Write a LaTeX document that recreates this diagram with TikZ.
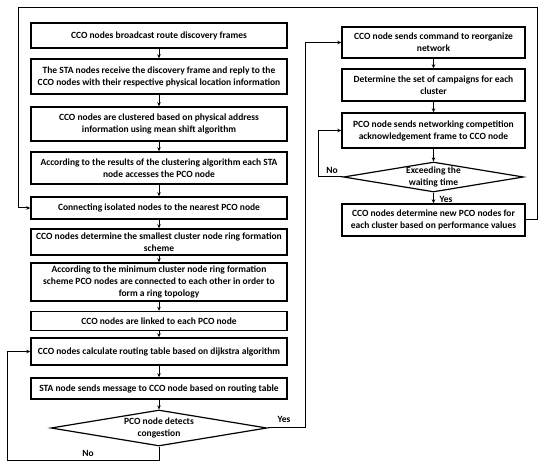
\documentclass[tikz,border=0pt]{standalone}
\usepackage{fontspec}
\setmainfont{Carlito}
\usetikzlibrary{arrows.meta,shapes.geometric}
\begin{document}
\begin{tikzpicture}[x=1pt,y=-1pt,
  font=\fontsize{9.5}{12}\selectfont\bfseries,
  box/.style={draw,line width=1.4pt,align=center,inner sep=0pt,
    minimum width=#1},
  lbox/.style={box=256pt},
  rbox/.style={box=183pt},
  dec/.style={draw,diamond,line width=1.2pt,align=center,inner sep=0pt,aspect=6},
  arr/.style={-{Stealth[length=4pt,width=3.5pt]},line width=1pt},
  lab/.style={font=\fontsize{9.5}{11}\selectfont\bfseries}]
\useasboundingbox (0,0) rectangle (550,465);
\fill[white] (0,0) rectangle (550,465);
% left column
\node[lbox,minimum height=25pt] (b1) at (159,35.5) {CCO nodes broadcast route discovery frames};
\node[lbox,minimum height=35pt] (b2) at (159,76.5) {The STA nodes receive the discovery frame and reply to the\\CCO nodes with their respective physical location information};
\node[lbox,minimum height=34pt] (b3) at (159,124) {CCO nodes are clustered based on physical address\\information using mean shift algorithm};
\node[lbox,minimum height=32pt] (b4) at (159,168) {According to the results of the clustering algorithm each STA\\node accesses the PCO node};
\node[lbox,minimum height=22pt] (b5) at (159,208) {Connecting isolated nodes to the nearest PCO node};
\node[lbox,minimum height=26pt] (b6) at (159,242) {CCO nodes determine the smallest cluster node ring formation\\scheme};
\node[lbox,minimum height=38pt] (b7) at (159,282) {According to the minimum cluster node ring formation\\scheme PCO nodes are connected to each other in order to\\form a ring topology};
\node[lbox,minimum height=19pt] (b8) at (159,321) {CCO nodes are linked to each PCO node};
\node[lbox,minimum height=27pt] (b9) at (159,351.5) {CCO nodes calculate routing table based on dijkstra algorithm};
\node[lbox,minimum height=21pt] (b10) at (159,388.5) {STA node sends message to CCO node based on routing table};
\node[dec,minimum width=216pt,minimum height=36pt] (d1) at (159,428) {PCO node detects\\congestion};
% right column
\node[rbox,minimum height=31pt] (r1) at (433.5,42.5) {CCO node sends command to reorganize\\network};
\node[rbox,minimum height=32pt] (r2) at (433.5,85) {Determine the set of campaigns for each\\cluster};
\node[rbox,minimum height=35pt] (r3) at (433.5,130.5) {PCO node sends networking competition\\acknowledgement frame to CCO node};
\node[dec,minimum width=180pt,minimum height=30pt] (d2) at (433.5,177) {Exceeding the\\waiting time};
\node[rbox,minimum height=32pt] (r4) at (433.5,220) {CCO nodes determine new PCO nodes for\\each cluster based on performance values};
% straight arrows
\foreach \a/\b in {b1/b2,b2/b3,b3/b4,b4/b5,b5/b6,b6/b7,b7/b8,b8/b9,b9/b10,b10/d1,r1/r2,r2/r3,r3/d2,d2/r4}
  \draw[arr] (\a.south) -- (\b.north);
% corner coordinates
\coordinate (c1) at (537,220);
\coordinate (c2) at (537,8);
\coordinate (c3) at (18,8);
\coordinate (c4) at (18,208);
\coordinate (y1) at (305,428);
\coordinate (n1) at (159,461);
\coordinate (n2) at (7,461);
\coordinate (n3) at (318,177);
% loops
\draw[arr] (r4.east) -- (c1) -- (c2) -- (c3) -- (c4) -- (b5.west);
\draw[arr] (d1.east) -- (y1) |- (r1.west);
\draw[arr] (d1.south) -- (n1) -- (n2) |- (b9.west);
\draw[arr] (d2.west) -- (n3) |- (r3.west);
% labels
\node[lab] (ly1) at (284,419) {Yes};
\node[lab] (ln1) at (88,453) {No};
\node[lab] (ln2) at (332,170) {No};
\node[lab] (ly2) at (446,199) {Yes};
\end{tikzpicture}
\end{document}
